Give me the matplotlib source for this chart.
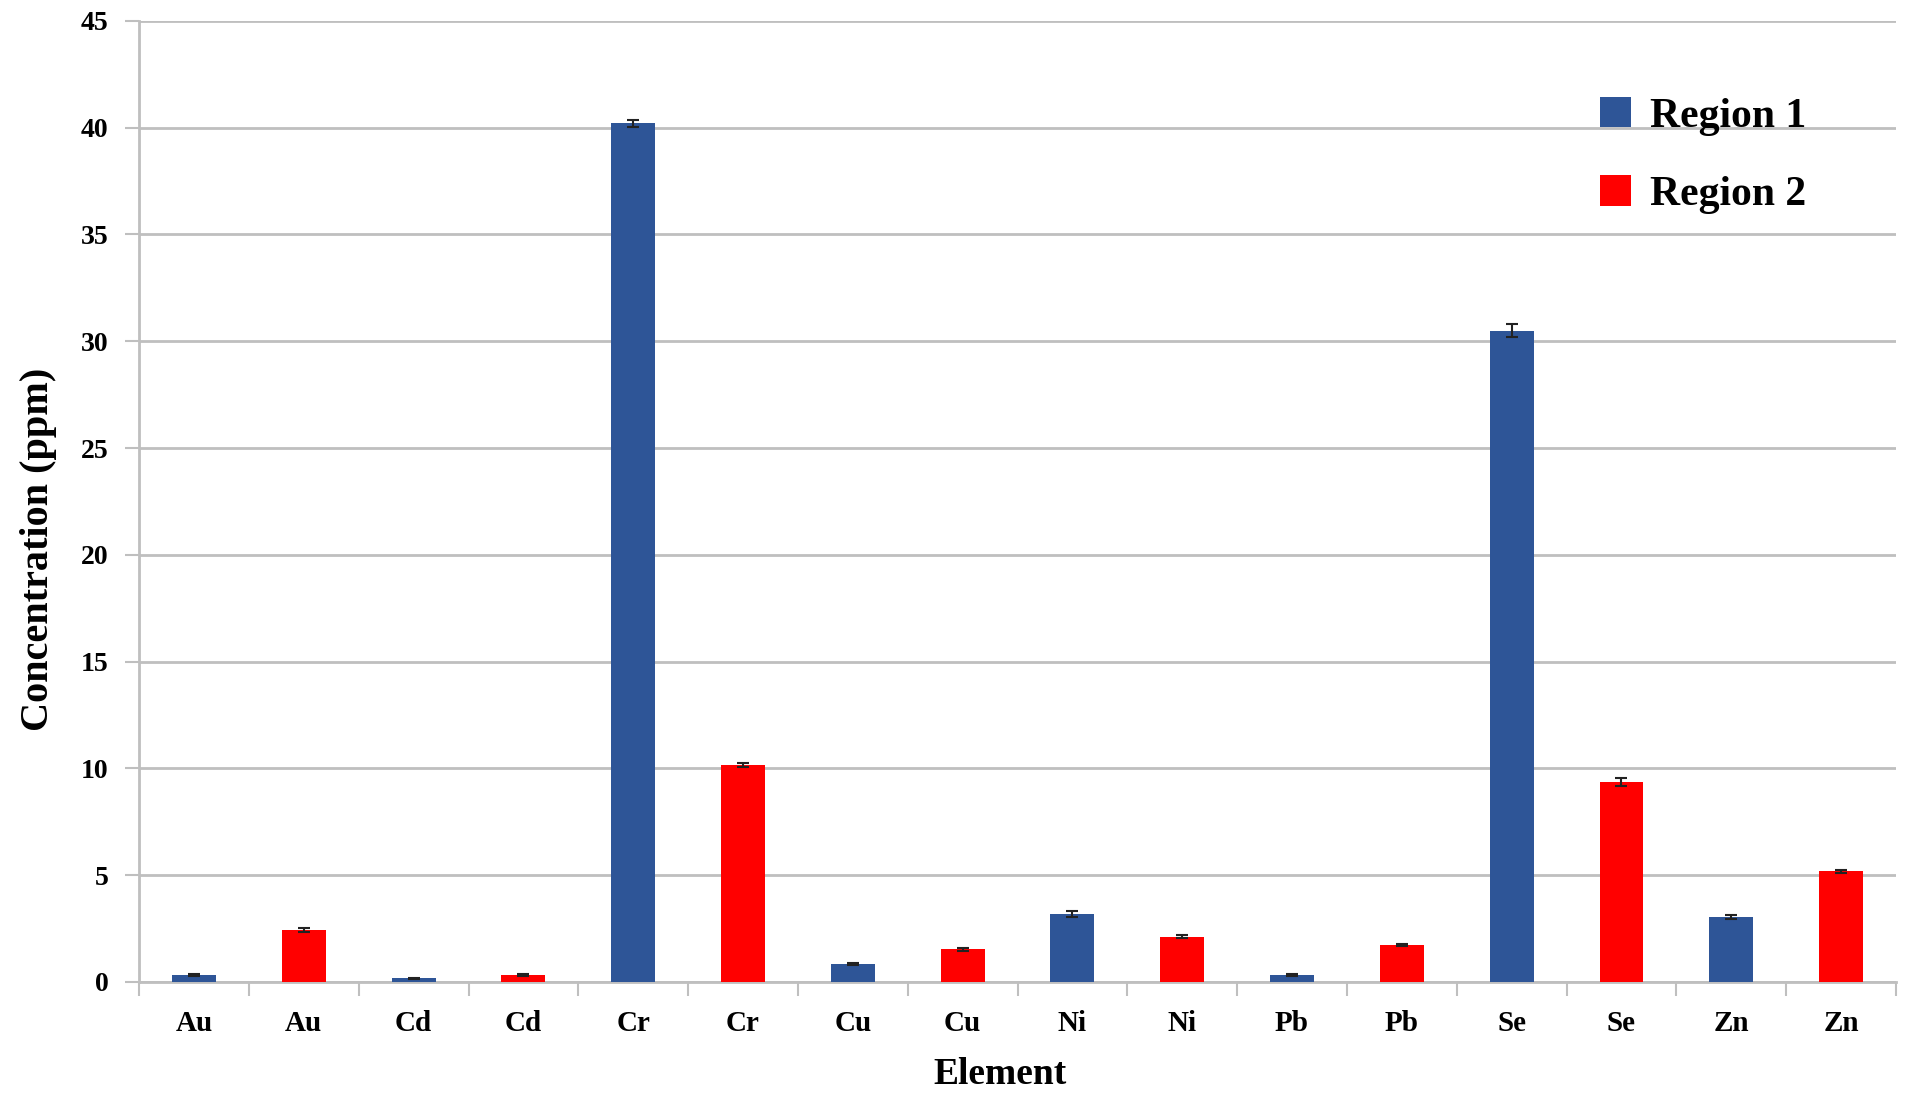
import matplotlib.pyplot as plt
import numpy as np

elements = ['Au', 'Cd', 'Cr', 'Cu', 'Ni', 'Pb', 'Se', 'Zn']
region1 = [0.31, 0.16, 40.2, 0.85, 3.17, 0.33, 30.5, 3.03]
region2 = [2.44, 0.34, 10.15, 1.53, 2.11, 1.72, 9.35, 5.17]
err1 = [0.05, 0.03, 0.15, 0.05, 0.15, 0.05, 0.3, 0.08]
err2 = [0.1, 0.05, 0.1, 0.07, 0.07, 0.05, 0.2, 0.05]
yticks = [0, 5, 10, 15, 20, 25, 30, 35, 40, 45]

blue = '#2E5597'
red = '#FF0000'
grid_c = '#BFBFBF'

plt.rcParams['font.family'] = ['Liberation Serif', 'DejaVu Serif']
plt.rcParams['font.weight'] = 'bold'

fig = plt.figure(figsize=(19.08, 11.02), dpi=100)
ax = fig.add_axes([0.0729, 0.109, 0.9208, 0.872])

x1 = np.arange(len(elements)) * 2
x2 = x1 + 1
ekw = dict(ecolor='#222222', elinewidth=1.5, capsize=4, capthick=1.5)
ax.bar(x1, region1, width=0.4, color=blue, yerr=err1, error_kw=ekw, label='Region 1', zorder=3)
ax.bar(x2, region2, width=0.4, color=red, yerr=err2, error_kw=ekw, label='Region 2', zorder=3)

ax.set_xlim(-0.5, 2 * len(elements) - 0.5)
ax.set_ylim(0, 45)
ax.set_yticks(yticks)
ax.set_yticklabels([str(t) for t in yticks], fontsize=20, fontweight='bold')

labels = [e for e in elements for _ in range(2)]
ax.set_xticks(np.arange(2 * len(elements)))
ax.set_xticklabels(labels, fontsize=21, fontweight='bold')
ax.tick_params(axis='x', which='major', length=0, pad=20)
ax.set_xticks(np.arange(2 * len(elements) + 1) - 0.5, minor=True)
ax.tick_params(axis='x', which='minor', length=10, width=1.5, color=grid_c, direction='out')
ax.tick_params(axis='y', length=10, width=1.5, color=grid_c, pad=12)

ax.yaxis.grid(True, color=grid_c, linewidth=2, zorder=0)
ax.set_axisbelow(True)
for s in ['top', 'right']:
    ax.spines[s].set_visible(False)
for s in ['left', 'bottom']:
    ax.spines[s].set_color(grid_c)
    ax.spines[s].set_linewidth(2)

ax.set_xlabel('Element', fontsize=27, fontweight='bold')
ax.xaxis.set_label_coords(0.49, -0.078)
ax.set_ylabel('Concentration (ppm)', fontsize=29, fontweight='bold')
ax.yaxis.set_label_coords(-0.047, 0.45)

leg = ax.legend(loc='upper right', bbox_to_anchor=(0.97, 0.96), frameon=False,
                handlelength=0.75, handleheight=0.75, labelspacing=0.95,
                handletextpad=0.45, prop={'weight': 'bold', 'size': 30})

fig.savefig('out.png', dpi=100)
